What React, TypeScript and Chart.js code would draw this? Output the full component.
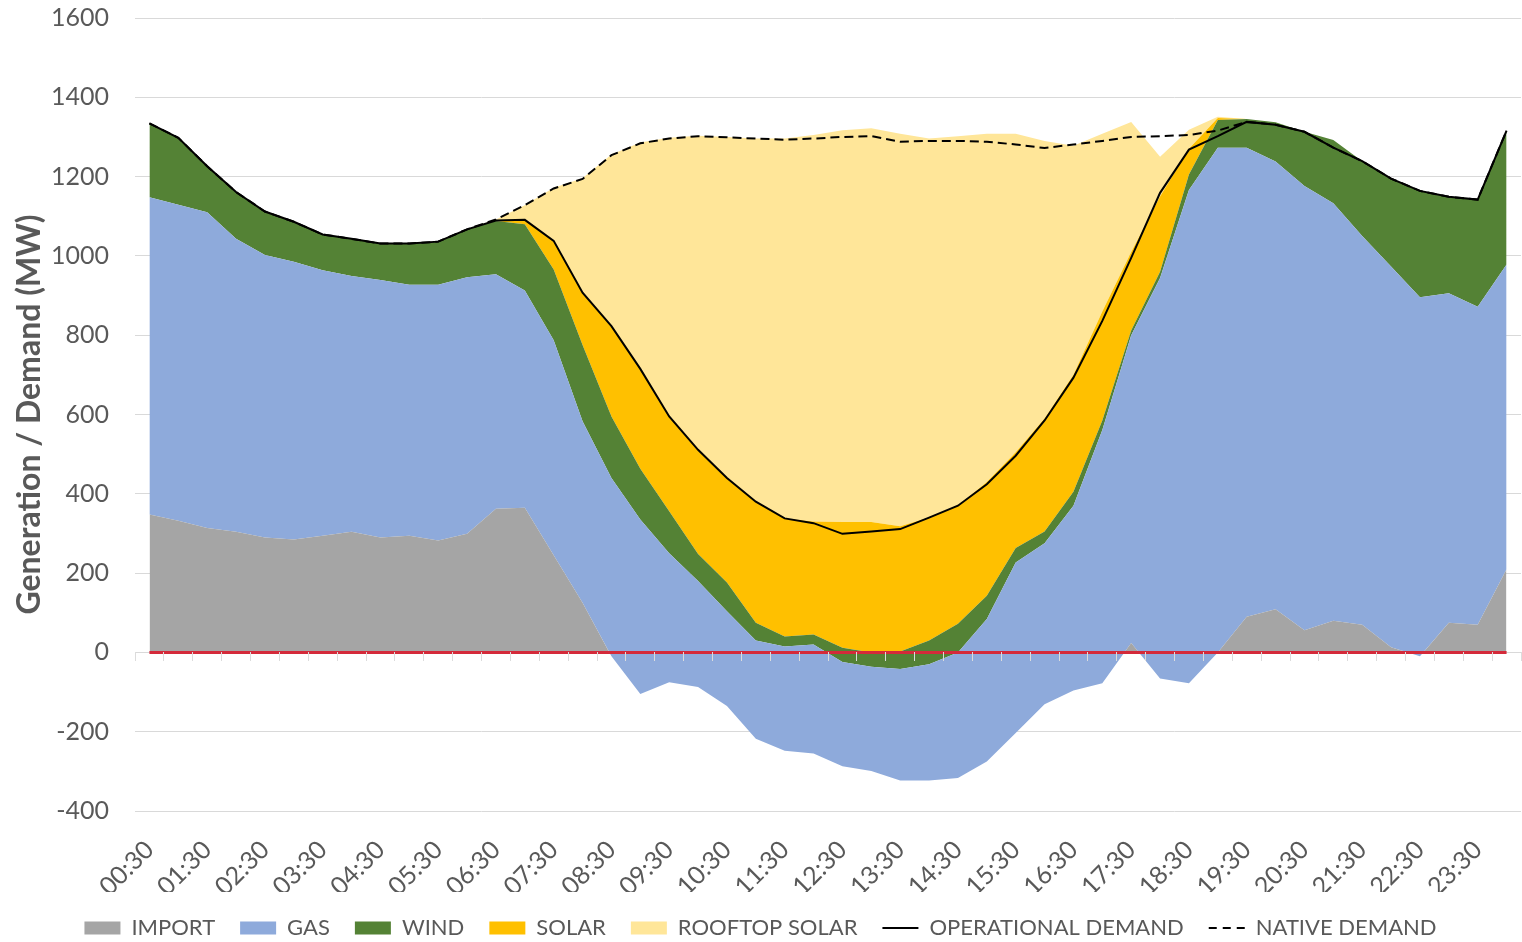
import React, { useEffect, useRef } from 'react';
import { Chart, registerables } from 'chart.js';

Chart.register(...registerables);

const times = [
  '00:30', '01:00', '01:30', '02:00', '02:30', '03:00', '03:30', '04:00',
  '04:30', '05:00', '05:30', '06:00', '06:30', '07:00', '07:30', '08:00',
  '08:30', '09:00', '09:30', '10:00', '10:30', '11:00', '11:30', '12:00',
  '12:30', '13:00', '13:30', '14:00', '14:30', '15:00', '15:30', '16:00',
  '16:30', '17:00', '17:30', '18:00', '18:30', '19:00', '19:30', '20:00',
  '20:30', '21:00', '21:30', '22:00', '22:30', '23:00', '23:30', '24:00',
];

const importMW = [
  348, 332, 314, 304, 290, 285, 294, 304, 290, 294, 282, 299,
  362, 365, 245, 125, -10, -105, -75, -87, -135, -218, -248, -255,
  -287, -299, -323, -323, -317, -275, -203, -131, -96, -78, 24, -66,
  -78, 0, 90, 109, 56, 80, 70, 13, -10, 75, 70, 210,
];

const gasMW = [
  800, 797, 796, 739, 712, 700, 670, 645, 649, 633, 645, 647,
  592, 548, 542, 458, 450, 440, 325, 267, 239, 248, 263, 275,
  263, 263, 281, 293, 317, 359, 430, 406, 466, 639, 776, 1010,
  1244, 1273, 1183, 1129, 1120, 1053, 980, 960, 906, 831, 802, 768,
];

const windMW = [
  186, 169, 116, 118, 110, 101, 90, 94, 92, 104, 109, 121,
  134, 167, 179, 192, 155, 128, 106, 68, 72, 45, 25, 25,
  36, 36, 44, 60, 72, 59, 36, 30, 35, 24, 12, 16,
  39, 70, 72, 99, 137, 159, 189, 222, 268, 243, 270, 338,
];

const solarMW = [
  0, 0, 0, 0, 0, 0, 0, 0, 0, 0, 0, 0,
  1, 11, 72, 132, 228, 252, 239, 263, 264, 305, 298, 285,
  317, 329, 316, 310, 298, 287, 242, 285, 295, 275, 198, 190,
  65, 5, 0, 0, 0, 0, 0, 0, 0, 0, 0, 0,
];

const rooftopMW = [
  0, 0, 0, 0, 0, 0, 0, 0, 0, 0, 0, 0,
  3, 37, 134, 289, 433, 571, 703, 792, 860, 916, 958, 975,
  988, 993, 990, 956, 932, 878, 803, 700, 578, 448, 328, 100,
  48, 3, 0, 0, 0, 0, 0, 0, 0, 0, 0, 0,
];

const operationalMW = [
  1334, 1298, 1226, 1161, 1112, 1086, 1054, 1043, 1031, 1031, 1036, 1067,
  1089, 1091, 1038, 907, 823, 715, 595, 511, 440, 380, 338, 326,
  299, 305, 311, 340, 370, 424, 496, 585, 693, 836, 995, 1159,
  1268, 1302, 1338, 1331, 1313, 1273, 1239, 1195, 1164, 1149, 1142, 1316,
];

const nativeMW = [
  1334, 1298, 1226, 1161, 1112, 1086, 1054, 1043, 1031, 1031, 1036, 1067,
  1092, 1128, 1170, 1194, 1254, 1284, 1296, 1302, 1299, 1296, 1293, 1296,
  1300, 1302, 1288, 1290, 1290, 1288, 1281, 1272, 1281, 1290, 1300, 1302,
  1305, 1316, 1338, 1331, 1313, 1273, 1239, 1195, 1164, 1149, 1142, 1316,
];

const zeroLine = [
  0, 0, 0, 0, 0, 0, 0, 0, 0, 0, 0, 0,
  0, 0, 0, 0, 0, 0, 0, 0, 0, 0, 0, 0,
  0, 0, 0, 0, 0, 0, 0, 0, 0, 0, 0, 0,
  0, 0, 0, 0, 0, 0, 0, 0, 0, 0, 0, 0,
];

const FONT = 'Lato, "Open Sans", "DejaVu Sans", sans-serif';
const TEXT = '#595959';
const W = 1522;
const H = 949;

export default function App() {
  const ref = useRef<HTMLCanvasElement>(null);

  useEffect(() => {
    if (!ref.current) return;
    const area = (label: string, data: number[], color: string, fill: any) => ({
      label,
      data,
      backgroundColor: color,
      borderColor: color,
      borderWidth: 0,
      pointRadius: 0,
      pointHoverRadius: 0,
      fill,
      stack: 'gen',
      order: 1,
      tension: 0,
    });
    const chart = new Chart(ref.current, {
      type: 'line',
      data: {
        labels: times,
        datasets: [
          area('IMPORT', importMW, '#a5a5a5', { target: 'origin', above: '#a5a5a5', below: 'rgba(0,0,0,0)' }),
          area('GAS', gasMW, '#8eaadb', '-1'),
          area('WIND', windMW, '#548235', '-1'),
          area('SOLAR', solarMW, '#ffc000', '-1'),
          area('ROOFTOP SOLAR', rooftopMW, '#ffe699', '-1'),
          {
            label: 'OPERATIONAL DEMAND',
            data: operationalMW,
            borderColor: '#000000',
            backgroundColor: '#000000',
            borderWidth: 2,
            pointRadius: 0,
            fill: false,
            stack: 'op',
            order: 0,
            tension: 0,
          },
          {
            label: 'NATIVE DEMAND',
            data: nativeMW,
            borderColor: '#000000',
            backgroundColor: '#000000',
            borderWidth: 2,
            borderDash: [9, 5],
            pointRadius: 0,
            fill: false,
            stack: 'nat',
            order: 0,
            tension: 0,
          },
          {
            label: 'zero',
            data: zeroLine,
            borderColor: '#d42a3a',
            backgroundColor: '#d42a3a',
            borderWidth: 3,
            pointRadius: 0,
            fill: false,
            stack: 'zero',
            order: 0,
            tension: 0,
          },
        ],
      },
      options: {
        animation: false,
        responsive: false,
        maintainAspectRatio: false,
        layout: { padding: { top: 18, left: 0, right: 1, bottom: 0 } },
        plugins: {
          tooltip: { enabled: false },
          legend: {
            display: true,
            position: 'bottom',
            labels: {
              usePointStyle: true,
              pointStyleWidth: 36,
              boxHeight: 13,
              padding: 25,
              color: TEXT,
              font: { family: FONT, size: 22 },
              generateLabels: (c: any) =>
                c.data.datasets
                  .map((ds: any, i: number) => {
                    const isLine = i >= 5;
                    return {
                      text: ds.label,
                      fillStyle: ds.backgroundColor,
                      strokeStyle: ds.borderColor,
                      lineWidth: isLine ? 2 : 0,
                      lineDash: isLine && i === 6 ? [8, 6] : [],
                      pointStyle: isLine ? 'line' : 'rect',
                      hidden: false,
                      datasetIndex: i,
                      fontColor: TEXT,
                    };
                  })
                  .filter((it: any) => it.text !== 'zero'),
            },
          },
        },
        scales: {
          x: {
            type: 'category',
            position: 'bottom',
            offset: true,
            grid: { display: false, drawTicks: false, offset: true },
            border: { display: false },
            ticks: {
              autoSkip: false,
              minRotation: 45,
              maxRotation: 45,
              padding: 24,
              color: TEXT,
              font: { family: FONT, size: 25 },
              callback: (_v: any, idx: number) => (idx % 2 === 0 ? times[idx] : ''),
            },
            afterFit: (s: any) => {
              s.height = 81;
              s.paddingLeft = 0;
              s.paddingRight = 0;
            },
          },
          x2: {
            type: 'category',
            position: { y: 0 },
            offset: true,
            grid: {
              display: true,
              drawOnChartArea: false,
              drawTicks: true,
              tickLength: 9,
              color: '#dcdcdc',
              offset: true,
              z: 1,
            },
            border: { display: false },
            ticks: { display: false, autoSkip: false },
            afterFit: (s: any) => {
              s.paddingLeft = 0;
              s.paddingRight = 0;
            },
          },
          y: {
            stacked: 'single',
            min: -400,
            max: 1600,
            grid: { color: '#d9d9d9', lineWidth: 1, drawTicks: false },
            border: { display: false },
            ticks: {
              stepSize: 200,
              padding: 26,
              color: TEXT,
              font: { family: FONT, size: 25 },
              callback: (v: any) => String(v),
            },
            title: {
              display: true,
              text: 'Generation / Demand (MW)',
              color: TEXT,
              font: { family: FONT, size: 32, weight: 'bold' },
              padding: { top: 10, bottom: 0 },
            },
            afterFit: (s: any) => {
              s.width = 135;
              s.paddingTop = 0;
              s.paddingBottom = 0;
            },
          },
        },
      } as any,
    });
    return () => chart.destroy();
  }, []);

  return (
    <div style={{ position: 'fixed', left: 0, top: 0, width: W, height: H, background: '#ffffff' }}>
      <canvas ref={ref} width={W} height={H} style={{ display: 'block', width: W, height: H }} />
    </div>
  );
}
